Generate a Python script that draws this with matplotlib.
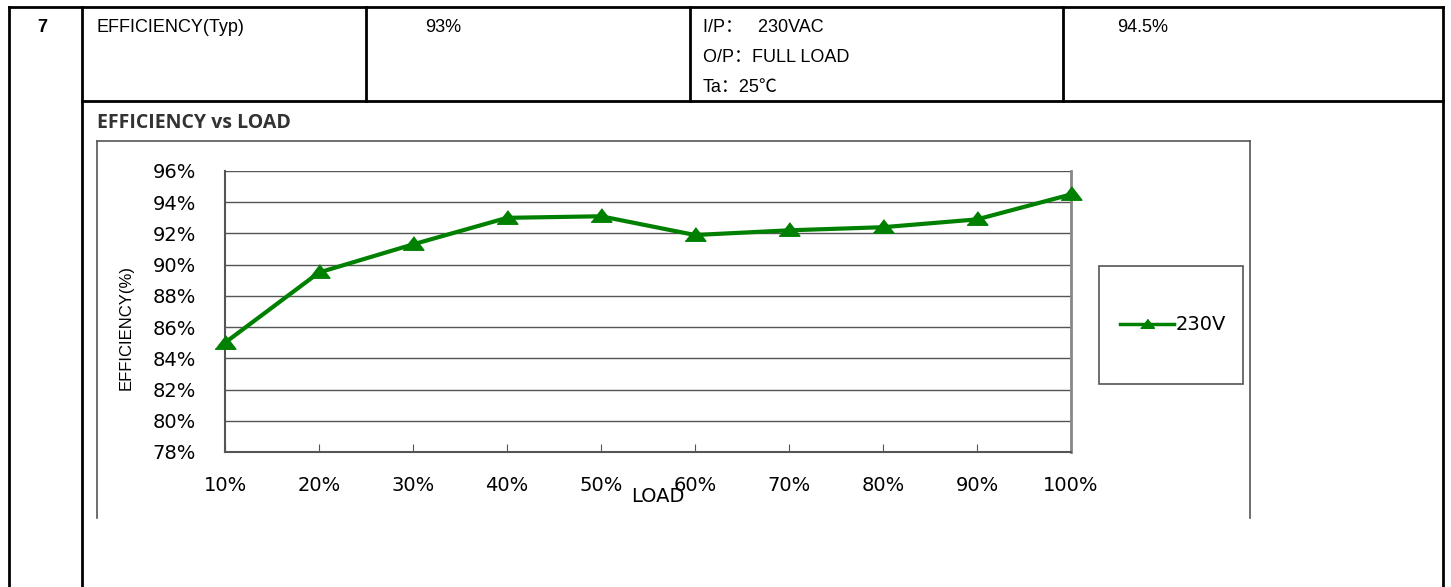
import matplotlib
matplotlib.use("Agg")
import matplotlib.pyplot as plt
from matplotlib.lines import Line2D
from matplotlib.patches import Rectangle

W, H = 1451, 587

# data
loads = ["10%", "20%", "30%", "40%", "50%", "60%", "70%", "80%", "90%", "100%"]
eff_230v = [85.0, 89.5, 91.3, 93.0, 93.1, 91.9, 92.2, 92.4, 92.9, 94.5]
series_label = "230V"
y_ticks = [78, 80, 82, 84, 86, 88, 90, 92, 94, 96]

# table row texts
row_no = "7"
item = "EFFICIENCY(Typ)"
typ_value = "93%"
cond_lines = ["I/P：   230VAC", "O/P：FULL LOAD", "Ta：25℃"]
measured = "94.5%"

GREEN = "#008000"
TABLE_FONT = ["Liberation Sans", "Noto Sans CJK SC", "DejaVu Sans"]
CHART_FONT = ["DejaVu Sans"]

fig = plt.figure(figsize=(W / 100, H / 100), dpi=100)

# background axes in pixel coordinates for the table frame
bg = fig.add_axes([0, 0, 1, 1])
bg.set_xlim(0, W)
bg.set_ylim(H, 0)
bg.axis("off")

lk = dict(color="black", lw=2, solid_capstyle="projecting")
bg.plot([9, 1443], [7, 7], **lk)
bg.plot([9, 9], [7, H], **lk)
bg.plot([1443, 1443], [7, H], **lk)
bg.plot([82, 82], [7, H], **lk)
bg.plot([82, 1443], [101, 101], **lk)
for xv in (366, 690, 1063):
    bg.plot([xv, xv], [7, 101], **lk)

tk = dict(fontsize=13, va="center", family=TABLE_FONT, color="black")
bg.text(42, 27, row_no, ha="center", fontweight="bold", **tk)
bg.text(96, 27, item, ha="left", **tk)
bg.text(425, 27, typ_value, ha="left", **tk)
for i, s in enumerate(cond_lines):
    bg.text(703, 27 + 30 * i, s, ha="left", **tk)
bg.text(1117, 27, measured, ha="left", **tk)

# chart title and chart frame
bg.text(97, 123, "EFFICIENCY vs LOAD", ha="left", va="center", fontsize=14,
        fontweight="bold", family=["Open Sans", "DejaVu Sans"], color="#333333")
fk = dict(color="#555555", lw=1.2)
bg.plot([97, 1250], [141, 141], **fk)
bg.plot([97, 97], [141, 518], **fk)
bg.plot([1250, 1250], [141, 518], **fk)

# legend frame
bg.add_patch(Rectangle((1099, 266), 144, 118, fill=False, ec="#555555", lw=1.2))

# axis label texts
bg.text(126, 327, "EFFICIENCY(%)", rotation=90, ha="center", va="center",
        fontsize=12, family=TABLE_FONT, color="black")
bg.text(658, 497, "LOAD", ha="center", va="center", fontsize=14,
        family=CHART_FONT, color="black")

# plot area
ax = fig.add_axes([225 / W, 1 - 452 / H, 846 / W, 281 / H])
x = list(range(len(loads)))
marker = [(-1, -0.55), (1, -0.55), (0, 0.75)]
ax.plot(x, eff_230v, color=GREEN, lw=3, marker=marker, markersize=15,
        label=series_label, zorder=3, clip_on=False)

ax.set_xlim(0, len(loads) - 1)
ax.set_ylim(y_ticks[0], y_ticks[-1])
ax.set_xticks(x)
ax.set_xticklabels(loads)
ax.set_yticks(y_ticks)
ax.set_yticklabels([f"{v}%" for v in y_ticks])
ax.yaxis.grid(True, color="#555555", lw=1)
ax.set_axisbelow(True)

ax.spines["top"].set_visible(False)
ax.spines["left"].set_color("#555555")
ax.spines["left"].set_linewidth(1.5)
ax.spines["bottom"].set_color("#555555")
ax.spines["bottom"].set_linewidth(1.5)
ax.spines["right"].set_color("#888888")
ax.spines["right"].set_linewidth(2)

ax.tick_params(axis="x", direction="in", length=6, color="#555555", pad=17,
               labelsize=14)
ax.tick_params(axis="y", length=0, pad=21, labelsize=14)
for lab in ax.get_xticklabels() + ax.get_yticklabels():
    lab.set_family(CHART_FONT)

handle = Line2D([], [], color=GREEN, lw=2.5, marker=marker, markersize=10)
leg = ax.legend([handle], [series_label], loc="center",
                bbox_to_anchor=((1099 + 74) / W, 1 - 325 / H),
                bbox_transform=fig.transFigure, frameon=False,
                handlelength=2.8, handletextpad=0.1,
                prop={"family": CHART_FONT, "size": 14})

fig.savefig("out.png", dpi=100)
